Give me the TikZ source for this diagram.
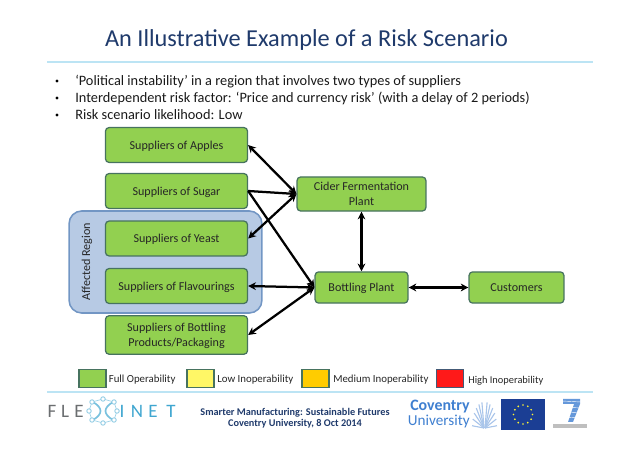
\documentclass[tikz,border=0pt]{standalone}
\usepackage{fontspec}
\setmainfont{Carlito}
\usetikzlibrary{arrows.meta}
\definecolor{opgreen}{HTML}{92D050}
\definecolor{boxline}{HTML}{47735F}
\definecolor{regionfill}{HTML}{B7CAE4}
\definecolor{regionline}{HTML}{7296C4}
\definecolor{titleblue}{HTML}{1F3A6B}
\definecolor{rulecyan}{HTML}{BCE4F4}
\definecolor{logogray}{HTML}{6B6E70}
\definecolor{logoblue}{HTML}{3FA6D0}
\definecolor{covblue}{HTML}{3F7FD0}
\definecolor{euflag}{HTML}{1B3E94}
\tikzset{
  riskbox/.style={draw=boxline,fill=opgreen,line width=0.9pt,rounded corners=2.5pt,
    align=center,text depth=0pt,text=black!85,font=\fontsize{8.6}{11}\selectfont},
  supplierbox/.style={riskbox,minimum width=3.55cm,minimum height=0.87cm},
  legendbox/.style={draw=#1,line width=0.9pt,minimum width=0.68cm,minimum height=0.45cm},
  legendtext/.style={anchor=west,inner sep=0pt,text=black!85,font=\fontsize{7.7}{9}\selectfont},
  bullettext/.style={anchor=west,inner sep=0pt,text=black!90,font=\fontsize{10.2}{12}\selectfont},
  logoletter/.style={inner sep=0pt,font=\fontsize{13.5}{14}\selectfont},
  flow/.style={line width=1.6pt,{Stealth[length=5.5pt,width=5.5pt]}-{Stealth[length=5.5pt,width=5.5pt]}},
  oneway/.style={line width=1.6pt,-{Stealth[length=5.5pt,width=5.5pt]}},
}
\begin{document}
\begin{tikzpicture}[x=0.025cm,y=-0.025cm]
\useasboundingbox (0,0) rectangle (638,451);
% heading
\node (heading) at (306.5,40) {\fontsize{17.3}{20}\selectfont\color{titleblue}An Illustrative Example of a Risk Scenario};
\coordinate (topa) at (47,62);
\coordinate (topb) at (593,62);
\draw[rulecyan,line width=2pt] (topa) -- (topb);
\node[bullettext] (bulleta) at (75,81.5) {‘Political instability’ in a region that involves two types of suppliers};
\node[bullettext] (bulletb) at (75,98.5) {Interdependent risk factor: ‘Price and currency risk’ (with a delay of 2 periods)};
\node[bullettext] (bulletc) at (75,115) {Risk scenario likelihood: Low};
\foreach \y in {81,98,115}
  \fill[black] (57,\y) circle (1.2pt);
% region
\node[draw=regionline,fill=regionfill,line width=1.1pt,rounded corners=9pt,minimum width=4.82cm,minimum height=2.55cm] (region) at (165.5,262) {};
\node[rotate=90,inner sep=0pt,text=black!85,font=\fontsize{8.6}{10}\selectfont] (regionlabel) at (87,262) {Affected Region};
% suppliers
\node[supplierbox] (apples) at (176.5,145) {Suppliers of Apples};
\node[supplierbox] (sugar) at (176.5,191) {Suppliers of Sugar};
\node[supplierbox] (yeast) at (176.5,238.5) {Suppliers of Yeast};
\node[supplierbox] (flavour) at (176.5,286) {Suppliers of Flavourings};
\node[supplierbox,minimum height=0.96cm] (packaging) at (176.5,335) {Suppliers of Bottling\\Products/Packaging};
% plants
\node[riskbox,minimum width=3.22cm,minimum height=0.85cm] (cider) at (361.5,194) {Cider Fermentation\\Plant};
\node[riskbox,minimum width=2.32cm,minimum height=0.78cm] (bottling) at (361.5,287.5) {Bottling Plant};
\node[riskbox,minimum width=2.37cm,minimum height=0.78cm] (customers) at (516.5,287.5) {Customers};
% links
\draw[flow] (apples.east) -- (cider.west);
\draw[oneway] (sugar.east) -- (cider.west);
\draw[flow] (yeast.east) -- (cider.west);
\draw[oneway] (sugar.east) -- (bottling.west);
\draw[flow] (flavour.east) -- (bottling.west);
\draw[flow] (packaging.east) -- (bottling.west);
\draw[flow] (cider.south) -- (bottling.north);
\draw[flow] (bottling.east) -- (customers.west);
% legend
\node[legendbox=boxline,fill=opgreen] (keyfull) at (92.5,378.5) {};
\node[legendbox=boxline,fill={yellow!60!white}] (keylow) at (200.5,378.5) {};
\node[legendbox=boxline,fill={orange!40!yellow}] (keymedium) at (315.5,378.5) {};
\node[legendbox=regionline!60!black,fill={red!90!white}] (keyhigh) at (450,378.5) {};
\node[legendtext] (fulltext) at (108.5,379.7) {Full Operability};
\node[legendtext] (lowtext) at (217,379.7) {Low Inoperability};
\node[legendtext] (mediumtext) at (333,379.7) {Medium Inoperability};
\node[legendtext,font=\fontsize{7.4}{9}\selectfont] (hightext) at (468,381) {High Inoperability};
\coordinate (lowa) at (47,392);
\coordinate (lowb) at (593,392);
\draw[rulecyan,line width=2pt] (lowa) -- (lowb);
% footer
\foreach \x/\l/\c in {52/F/logogray,65/L/logogray,79/E/logogray,122/I/logoblue,137/N/logoblue,153/E/logoblue,171/T/logoblue}
  \node[logoletter,text=\c] (logo\x) at (\x,411) {\l};
\draw[logoblue!70,line width=1.2pt] (93,402) .. controls (103,408) and (103,414) .. (93,420);
\draw[logoblue!70,line width=1.2pt] (113,402) .. controls (103,408) and (103,414) .. (113,420);
\draw[logoblue!50,line width=0.5pt] (89,411) -- (92,402) -- (103,399) -- (114,402) -- (117,411) -- (114,420) -- (103,423) -- (92,420) -- cycle;
\foreach \x/\y in {92/402,103/399,114/402,92/420,103/423,114/420,89/411,117/411}
  \draw[logoblue!60,fill=white,line width=0.6pt] (\x,\y) circle (1.6pt);
\node[align=center,inner sep=0pt,text=titleblue,font=\fontsize{7.3}{7.8}\selectfont\bfseries] (event) at (295,418.5) {Smarter Manufacturing: Sustainable Futures\\Coventry University, 8 Oct 2014};
\node[anchor=east,inner sep=0pt,text=covblue,font=\fontsize{11.3}{12}\selectfont\bfseries] (coventry) at (470,407) {Coventry};
\node[anchor=east,inner sep=0pt,text=covblue,font=\fontsize{10.8}{12}\selectfont] (university) at (470,421.5) {University};
\foreach \a in {-80,-65,...,-5}
  \draw[covblue!45,line width=0.8pt] (485,428) -- ++(\a:12 and 26);
\foreach \a in {-175,-160,...,-100}
  \draw[covblue!45,line width=0.8pt] (484,428) -- ++(\a:12 and 26);
\fill[euflag] (501,399) rectangle (545,430);
\foreach \a in {0,30,...,330}
  \fill[yellow!80!white] (523,414.5) ++(\a:9.5) circle (0.7pt);
\fill[covblue!80] (563,399) -- (580,399) -- (580,404) -- (573,422) -- (568,422) -- (574,404) -- (563,404) -- cycle;
\foreach \y in {401,407,412,417}
  \draw[white,line width=0.3pt] (562,\y) -- (581,\y+1);
\fill[gray!50] (553,424) rectangle (587,428);
\end{tikzpicture}
\end{document}
